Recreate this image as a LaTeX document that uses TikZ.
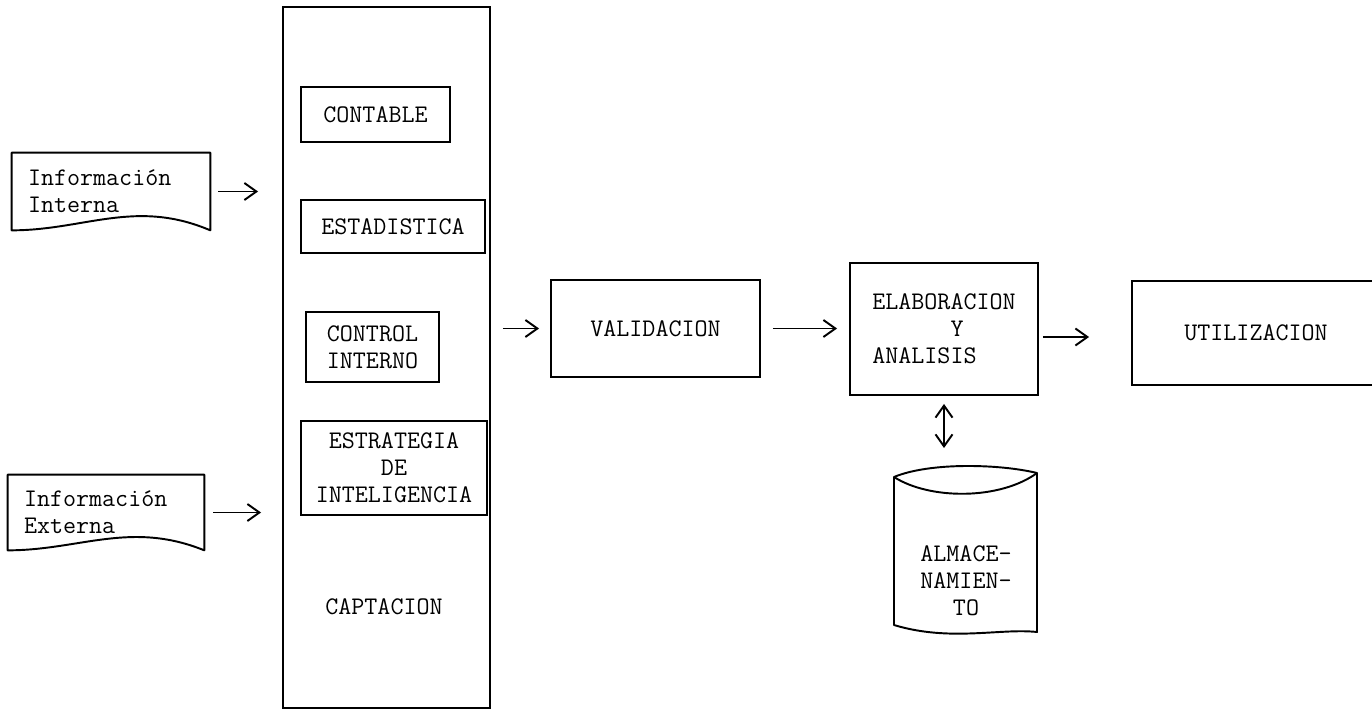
\documentclass[tikz,border=0pt]{standalone}
\usepackage{tikz}
\usetikzlibrary{arrows.meta}
\tikzset{caja/.style={draw, line width=1.1pt, inner sep=0pt, align=center},
         flecha/.style={line width=1.1pt, -{Straight Barb[length=2.4mm,width=3.4mm]}},
         linea/.style={line width=1.1pt, line join=round}}

\begin{document}
\begin{tikzpicture}[x=0.02cm, y=-0.02cm,
  every node/.style={font=\ttfamily\fontsize{14.4}{15.5}\selectfont}]
%%% flujo de la informacion %%%
      \useasboundingbox (0,0) rectangle (1372,713);

      %% entradas
      \node[inner xsep=0.32cm, inner ysep=0pt, text width=3.32cm, align=left,
            minimum height=1.54cm] (interna) at (111,191.5) {Información\\Interna};
      \node[inner xsep=0.32cm, inner ysep=0pt, text width=3.28cm, align=left,
            minimum height=1.5cm] (externa) at (106,512.5) {Información\\Externa};
      \draw[linea] (interna.south west) -- (interna.north west) -- (interna.north east)
        -- (interna.south east)
        .. controls ([xshift=-1.5cm,yshift=0.64cm]interna.south east)
        and ([xshift=1.46cm]interna.south west) .. (interna.south west) -- cycle;
      \draw[linea] (externa.south west) -- (externa.north west) -- (externa.north east)
        -- (externa.south east)
        .. controls ([xshift=-1.48cm,yshift=0.6cm]externa.south east)
        and ([xshift=1.44cm]externa.south west) .. (externa.south west) -- cycle;

      %% captacion
      \node[caja, minimum width=4.14cm, minimum height=14.02cm] (capt) at (386.5,357.5) {};
      \node (captlbl) at (384,607) {CAPTACION};
      \node[caja, minimum width=2.98cm, minimum height=1.1cm] (contable) at (375.5,114.5) {CONTABLE};
      \node[caja, minimum width=3.68cm, minimum height=1.06cm] (estad) at (393,226.5) {ESTADISTICA};
      \node[caja, align=left, minimum width=2.66cm, minimum height=1.4cm] (control) at (372.5,347) {CONTROL\\INTERNO};
      \node[caja, minimum width=3.72cm, minimum height=1.88cm] (estrat) at (394,468) {ESTRATEGIA\\DE\\INTELIGENCIA};

      %% proceso
      \node[caja, minimum width=4.18cm, minimum height=1.94cm] (valid) at (655.5,328.5) {VALIDACION};
      \node[caja, align=left, minimum width=3.76cm, minimum height=2.64cm] (elab) at (944,329)
        {ELABORACION\\\phantom{ELABOR}Y\\ANALISIS};
      \node[caja, minimum width=4.96cm, minimum height=2.08cm] (util) at (1256,333) {UTILIZACION};

      %% almacenamiento
      \draw[linea] (894,477) .. controls (930,462) and (1000,464) .. (1037,473)
        -- (1037,632) .. controls (1000,628) and (950,642) .. (894,625) -- cycle;
      \draw[linea] (894,477) .. controls (930,500) and (1000,500) .. (1037,473);
      \coordinate (tope) at (947,468);
      \node[align=center] (almac) at (966,581) {ALMACE-\\NAMIEN-\\TO};

      %% flechas
      \draw[flecha, shorten <=0.16cm, shorten >=0.48cm] (interna.east) -- (interna.east -| capt.west);
      \draw[flecha, shorten <=0.18cm, shorten >=0.42cm] (externa.east) -- (externa.east -| capt.west);
      \draw[flecha, shorten <=0.24cm, shorten >=0.22cm] (valid.west -| capt.east) -- (valid.west);
      \draw[flecha, shorten <=0.24cm, shorten >=0.24cm] (valid.east) -- (valid.east -| elab.west);
      \draw[flecha, shorten <=0.08cm, shorten >=0.84cm] ([yshift=-0.16cm]elab.east)
        -- ([yshift=-0.16cm]elab.east -| util.west);
      \draw[flecha, {Straight Barb[length=2.4mm,width=3.4mm]}-{Straight Barb[length=2.4mm,width=3.4mm]},
        shorten <=0.16cm, shorten >=0.4cm] (elab.south) -- (elab.south |- tope);

\end{tikzpicture}
\end{document}
